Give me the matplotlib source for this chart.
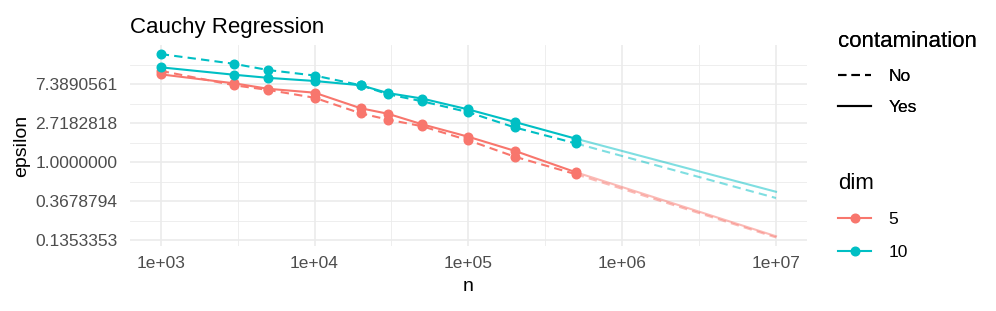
import numpy as np
import matplotlib.pyplot as plt
from matplotlib.lines import Line2D

plt.rcParams['font.family'] = ['Liberation Sans', 'DejaVu Sans']

# n values where the simulation was run
n = np.array([1e3, 3e3, 5e3, 1e4, 2e4, 3e4, 5e4, 1e5, 2e5, 5e5])

# epsilon (natural log scale)
eps = {
    (5, "Yes"): np.exp([2.25, 2.02, 1.88, 1.78, 1.38, 1.24, 0.97, 0.65, 0.29, -0.26]),
    (5, "No"): np.exp([2.34, 1.97, 1.85, 1.65, 1.25, 1.09, 0.92, 0.56, 0.14, -0.31]),
    (10, "Yes"): np.exp([2.43, 2.24, 2.16, 2.08, 1.97, 1.77, 1.63, 1.35, 1.03, 0.60]),
    (10, "No"): np.exp([2.77, 2.52, 2.36, 2.22, 1.97, 1.74, 1.56, 1.28, 0.89, 0.48]),
}
# extrapolated fit from 5e5 to 1e7
n_ext = np.array([5e5, 1e7])
eps_ext = {
    (5, "Yes"): np.exp([-0.26, -1.90]),
    (5, "No"): np.exp([-0.31, -1.93]),
    (10, "Yes"): np.exp([0.60, -0.76]),
    (10, "No"): np.exp([0.48, -0.92]),
}

colors = {5: "#F8766D", 10: "#00BFC4"}
styles = {"No": (0, (4, 2.5)), "Yes": "-"}

fig = plt.figure(figsize=(9.96, 3.11), dpi=100)
ax = fig.add_axes([0.1305, 0.209, 0.6795, 0.646])

for (d, c), y in eps.items():
    ax.plot(n, y, color=colors[d], linestyle=styles[c], lw=1.5, marker="o", ms=6.2)
    ax.plot(n_ext, eps_ext[(d, c)], color=colors[d], linestyle=styles[c], lw=1.5, alpha=0.5)

ax.set_xscale("log")
ax.set_yscale("log", base=np.e)
ax.set_xlim(10**2.8, 10**7.2)
ax.set_ylim(np.exp(-2.15), np.exp(3.0))

xt = [1e3, 1e4, 1e5, 1e6, 1e7]
ax.set_xticks(xt)
ax.set_xticklabels(["1e+03", "1e+04", "1e+05", "1e+06", "1e+07"])
ax.set_xticks([10**3.5, 10**4.5, 10**5.5, 10**6.5], minor=True)
yt = np.exp([-2, -1, 0, 1, 2])
ax.set_yticks(yt)
ax.set_yticklabels(["%.7f" % v for v in yt])
ax.set_yticks(np.exp([-1.5, -0.5, 0.5, 1.5, 2.5]), minor=True)
ax.yaxis.set_minor_formatter(plt.NullFormatter())
ax.xaxis.set_minor_formatter(plt.NullFormatter())

ax.grid(which="major", color="#EBEBEB", lw=1.2)
ax.grid(which="minor", color="#EBEBEB", lw=0.6)
ax.set_axisbelow(True)
for s in ax.spines.values():
    s.set_visible(False)
ax.tick_params(which="both", length=0, labelsize=12.5, labelcolor="#4D4D4D")
ax.tick_params(axis="y", pad=9)
ax.tick_params(axis="x", pad=7)

ax.set_xlabel("n", fontsize=14, labelpad=5)
ax.set_ylabel("epsilon", fontsize=14, labelpad=4)
ax.set_title("Cauchy Regression", fontsize=16, loc="left", x=0.0, y=1.02)

h1 = [Line2D([], [], color="black", lw=1.5, linestyle=styles["No"]),
      Line2D([], [], color="black", lw=1.5, linestyle="-")]
leg1 = fig.legend(h1, ["No", "Yes"], title="contamination", loc="upper left",
                  bbox_to_anchor=(0.826, 0.95), frameon=False, fontsize=12.5,
                  title_fontsize=16, handlelength=1.9, labelspacing=0.95,
                  alignment="left", handletextpad=1.0)
fig.add_artist(leg1)
h2 = [Line2D([], [], color=colors[5], lw=1.5, marker="o", ms=6.2),
      Line2D([], [], color=colors[10], lw=1.5, marker="o", ms=6.2)]
fig.legend(h2, ["5", "10"], title="dim", loc="upper left",
           bbox_to_anchor=(0.826, 0.495), frameon=False, fontsize=12.5,
           title_fontsize=16, handlelength=1.9, labelspacing=1.05,
           alignment="left", handletextpad=1.0)

fig.savefig("out.png", dpi=100)
